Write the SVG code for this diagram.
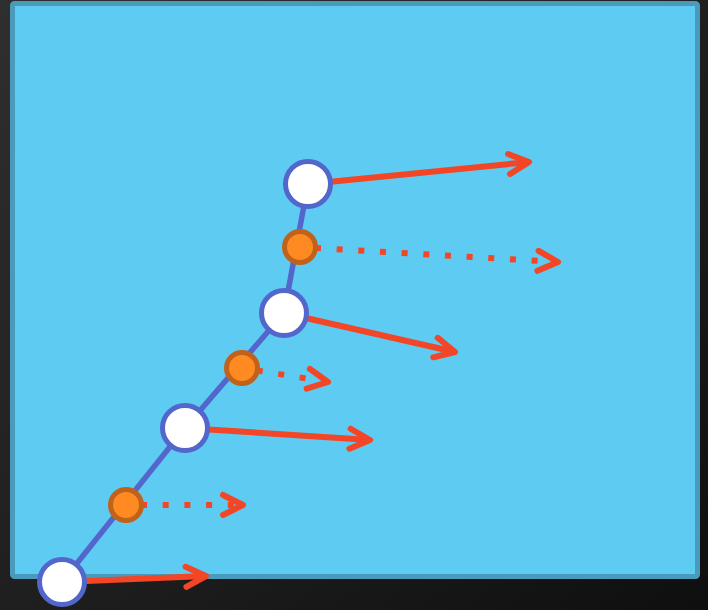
<svg xmlns="http://www.w3.org/2000/svg" width="708" height="610" viewBox="0 0 708 610">
  <defs>
    <linearGradient id="bg" x1="0" y1="0" x2="1" y2="1">
      <stop offset="0" stop-color="#2f2f2f"/>
      <stop offset="1" stop-color="#0f0f0f"/>
    </linearGradient>
    <marker id="chevron" viewBox="-24 -13 28 26" refX="0" refY="0" markerWidth="28" markerHeight="26" markerUnits="userSpaceOnUse" orient="auto" overflow="visible">
      <path d="M-20,-10 L0,0 L-20,10" fill="none" stroke="#f24626" stroke-width="6" stroke-linecap="round" stroke-linejoin="round"/>
    </marker>
    <style>
      .spine { fill: none; stroke: #5266cc; stroke-width: 5.5; stroke-linejoin: round; }
      .vec { fill: none; stroke: #f24626; stroke-width: 6; marker-end: url(#chevron); }
      .vec-dot { fill: none; stroke: #f24626; stroke-width: 6; stroke-dasharray: 6 15.7; stroke-dashoffset: 6.7; marker-end: url(#chevron); }
      .pt { fill: #ffffff; stroke: #5266cc; stroke-width: 5; }
      .mid { fill: #ff8a22; stroke: #c0621a; stroke-width: 5; }
    </style>
  </defs>

  <!-- backdrop and panel -->
  <rect x="0" y="0" width="708" height="610" fill="url(#bg)"/>
  <rect x="12.5" y="3.5" width="685" height="573" rx="2" fill="#5ecbf2" stroke="#4a9bbb" stroke-width="5"/>

  <!-- connectors -->
  <g id="connectors">
    <polyline class="spine" points="62,582 185,428 284,313 308,184"/>
    <line class="vec" x1="308" y1="184" x2="529" y2="162"/>
    <line class="vec" x1="284" y1="313" x2="455" y2="352"/>
    <line class="vec" x1="185" y1="428" x2="370" y2="440"/>
    <line class="vec" x1="62" y1="582" x2="206" y2="576"/>
    <line class="vec-dot" x1="300" y1="247" x2="558" y2="262"/>
    <line class="vec-dot" x1="242" y1="368" x2="328" y2="382"/>
    <line class="vec-dot" x1="126" y1="505" x2="243" y2="505"/>
  </g>

  <!-- nodes -->
  <g id="node-1"><circle class="pt" cx="308" cy="184" r="22.5"/></g>
  <g id="node-2"><circle class="pt" cx="284" cy="313" r="22.5"/></g>
  <g id="node-3"><circle class="pt" cx="185" cy="428" r="22.5"/></g>
  <g id="node-4"><circle class="pt" cx="62" cy="582" r="22.5"/></g>
  <g id="mid-1"><circle class="mid" cx="300" cy="247" r="15.5"/></g>
  <g id="mid-2"><circle class="mid" cx="242" cy="368" r="15.5"/></g>
  <g id="mid-3"><circle class="mid" cx="126" cy="505" r="15.5"/></g>
</svg>
